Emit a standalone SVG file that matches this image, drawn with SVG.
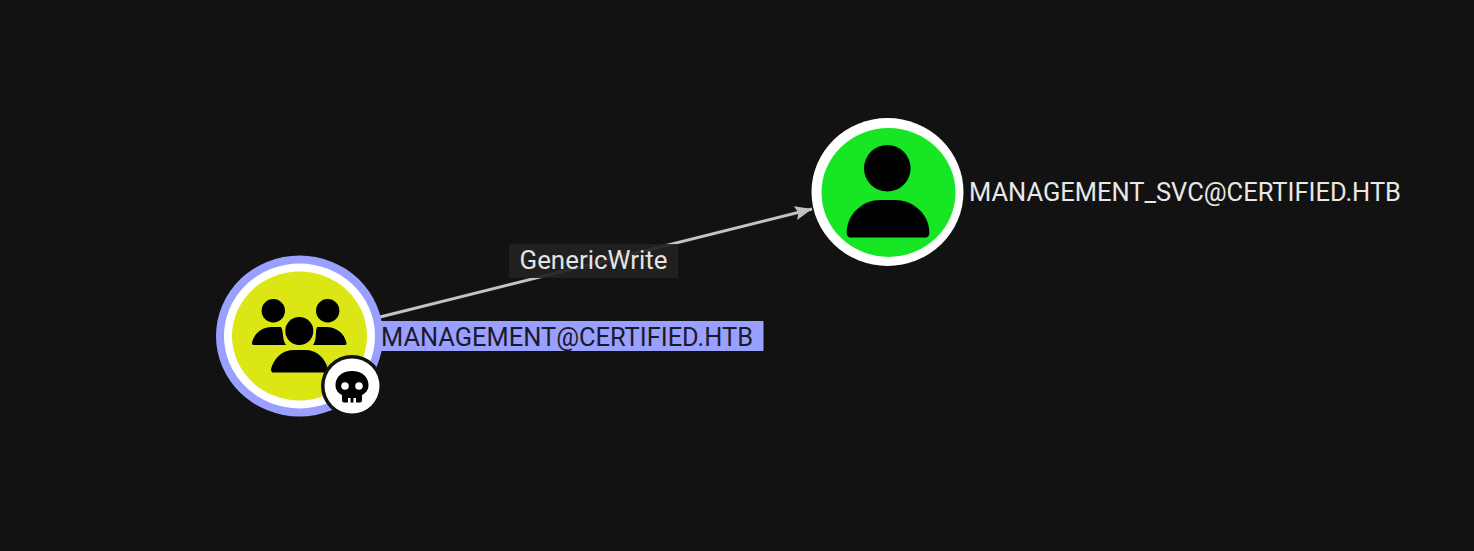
<svg xmlns="http://www.w3.org/2000/svg" width="1474" height="551" viewBox="0 0 1474 551">
<style>
.lbl{font-family:Roboto,"Liberation Sans",sans-serif;font-size:25px}
.ico{fill:#000}
</style>
<defs>
<marker id="arrow" markerUnits="userSpaceOnUse" markerWidth="20" markerHeight="16" refX="17" refY="8" orient="auto"><path d="M0 1L17 8L0 15L3 8Z" fill="#c0c0c0"/></marker>
</defs>
<rect width="1474" height="551" fill="#121212"/>
<g id="connectors">
<line x1="380" y1="317" x2="812" y2="209" stroke="#c4c4c4" stroke-width="3" marker-end="url(#arrow)"/>
</g>
<g id="edge-label">
<rect x="509" y="244" width="169" height="34" fill="#212121" fill-opacity=".93"/>
<text class="lbl" x="519.500" y="268.800" textLength="148" lengthAdjust="spacingAndGlyphs" fill="#e4e4e4">GenericWrite</text>
</g>
<g id="node-management">
<rect x="372" y="321" width="391.500" height="30" fill="#9aa0ff"/>
<ellipse cx="299.500" cy="336" rx="83.500" ry="80.500" fill="#9aa0ff"/>
<ellipse cx="299.500" cy="336" rx="75.500" ry="72.500" fill="#fff"/>
<ellipse cx="299.500" cy="336" rx="67.500" ry="64.500" fill="#dbe614"/>
<circle class="ico" cx="273.300" cy="310.700" r="11.700"/>
<circle class="ico" cx="327.700" cy="310.700" r="11.700"/>
<path class="ico" d="M252 343C254 333 262 327 272 327H281C284 332 282 340 286 345H254C252 345 252 344 252 343Z"/>
<path class="ico" d="M346.500 343C344.500 333 336 327 326 327H317C315 332 317 340 313 345H344.500C346.500 345 346.500 344 346.500 343Z"/>
<circle class="ico" cx="299.300" cy="331" r="14"/>
<path class="ico" d="M271 369C274 358 282 350 294 350H305C317 350 325 358 328 369C328 372 327 372.500 325 372.500H274C272 372.500 271 372 271 369Z"/>
<circle cx="352" cy="386" r="31" fill="#121212"/>
<circle cx="352" cy="386" r="27.500" fill="#fff"/>
<path class="ico" d="M352 371C342 371 335.500 377 335.500 385C335.500 390 338 393 342 395V400C342 402 343 402.500 345 402.500H348V398H350.500V402.500H353.500V398H356V402.500H359C361 402.500 362 402 362 400V395C366 393 368.500 390 368.500 385C368.500 377 362 371 352 371Z"/>
<circle cx="345" cy="386" r="3.800" fill="#fff"/>
<circle cx="359" cy="386" r="3.800" fill="#fff"/>
<text class="lbl" x="381" y="345.800" textLength="372" lengthAdjust="spacingAndGlyphs" fill="#1a1a2a">MANAGEMENT@CERTIFIED.HTB</text>
</g>
<g id="node-management-svc">
<ellipse cx="887.500" cy="192" rx="76" ry="74" fill="#fff"/>
<ellipse cx="888.500" cy="192.500" rx="67" ry="64.500" fill="#17e625"/>
<circle class="ico" cx="887.300" cy="168.300" r="23.300"/>
<path class="ico" d="M846.700 232C847 213 864 200 880 200H895C912 200 929 213 929.300 232C929.300 236 928 237.500 925 237.500H851C848 237.500 846.700 236 846.700 232Z"/>
<text class="lbl" x="969" y="200.800" textLength="432" lengthAdjust="spacingAndGlyphs" fill="#e8e8e8">MANAGEMENT_SVC@CERTIFIED.HTB</text>
</g>
</svg>
